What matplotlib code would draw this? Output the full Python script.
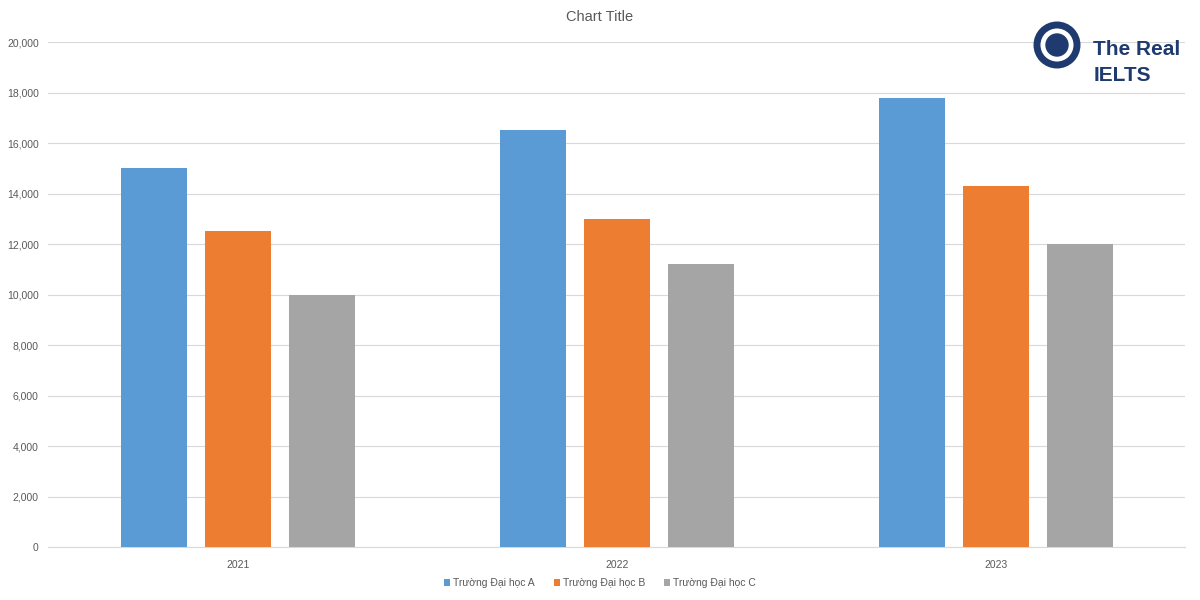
import numpy as np
import matplotlib
matplotlib.use("Agg")
import matplotlib.pyplot as plt
from matplotlib.patches import Ellipse

# dữ liệu
years = ["2021", "2022", "2023"]
series_names = ["Trường Đại học A", "Trường Đại học B", "Trường Đại học C"]
truong_a = [15000, 16500, 17800]
truong_b = [12500, 13000, 14300]
truong_c = [10000, 11200, 12000]
colors = ["#5b9bd5", "#ed7d31", "#a5a5a5"]

plt.rcParams['font.family'] = ['Liberation Sans', 'DejaVu Sans']

fig = plt.figure(figsize=(12, 6), dpi=100)
ax = fig.add_axes([0.0404, 0.0883, 0.9475, 0.8417])

x = np.arange(len(years))
width = 0.174
offset = 0.2216
for i, (vals, name) in enumerate(zip([truong_a, truong_b, truong_c], series_names)):
    ax.bar(x + (i - 1) * offset, vals, width=width, color=colors[i], label=name, zorder=3)

ax.set_xlim(-0.5, 2.5)
ax.set_ylim(0, 20000)
ax.set_yticks(range(0, 20001, 2000))
ax.set_yticklabels([f"{v:,}" for v in range(0, 20001, 2000)])
ax.set_xticks(x)
ax.set_xticklabels(years)
ax.tick_params(axis="both", length=0, labelsize=7.5, colors="#595959")
ax.tick_params(axis="y", pad=7)
ax.tick_params(axis="x", pad=9)
ax.grid(axis="y", color="#d9d9d9", linewidth=0.8, zorder=0)
for s in ["top", "right", "left"]:
    ax.spines[s].set_visible(False)
ax.spines["bottom"].set_color("#d9d9d9")

fig.text(0.5, 0.972, "Chart Title", ha="center", va="center", fontsize=10.5, color="#595959")

fig.legend(loc="center", bbox_to_anchor=(0.5, 0.028), ncol=3, frameon=False,
           fontsize=7.5, labelcolor="#595959", handlelength=0.6, handleheight=0.6,
           handletextpad=0.3, columnspacing=1.8)

# logo
logo = "#1f3a6e"
fig.text(0.911, 0.918, "The Real", ha="left", va="center", fontsize=15, color=logo,
         fontweight="semibold")
fig.text(0.911, 0.874, "IELTS", ha="left", va="center", fontsize=15, color=logo,
         fontweight="semibold")
cx, cy = 1057 / 1200, 1 - 45 / 600
fig.patches.append(Ellipse((cx, cy), 40 / 1200, 40 / 600, transform=fig.transFigure,
                           facecolor="white", edgecolor=logo, linewidth=5))
fig.patches.append(Ellipse((cx, cy), 22 / 1200, 22 / 600, transform=fig.transFigure,
                           facecolor=logo, edgecolor=logo))

fig.savefig("out.png", dpi=100, facecolor="white")
